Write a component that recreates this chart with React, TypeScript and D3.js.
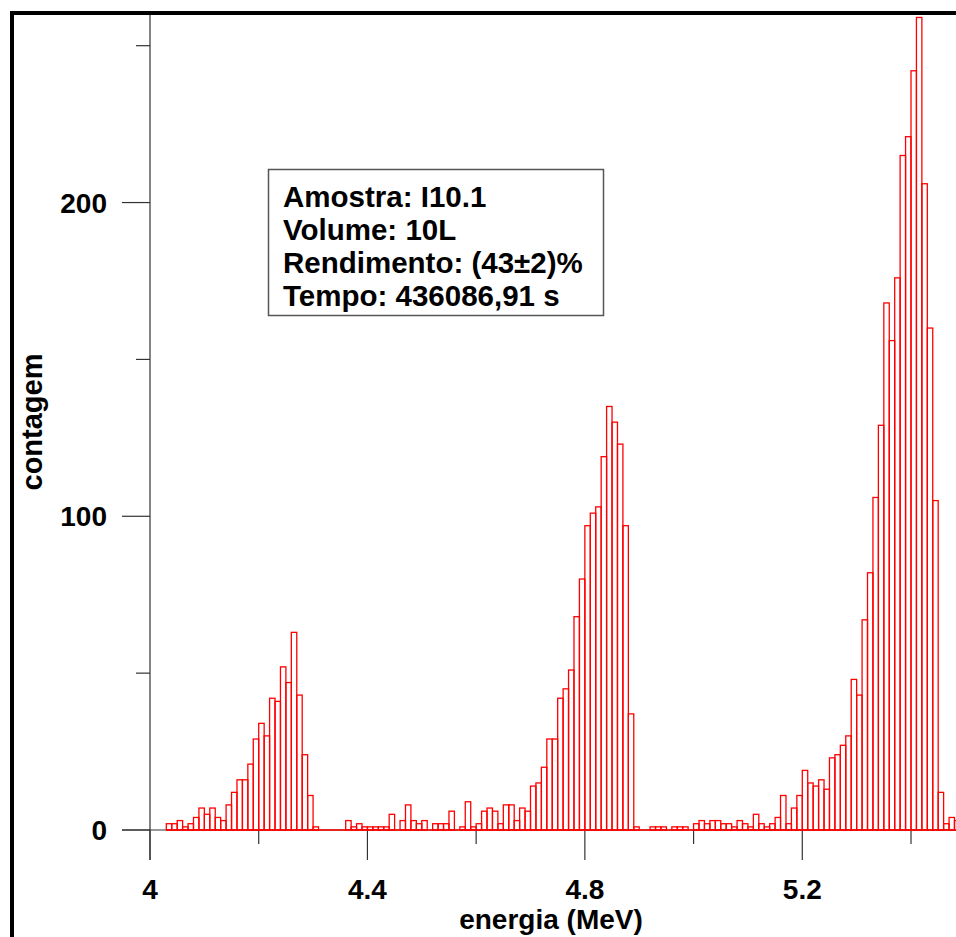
import React from 'react';
import * as d3 from 'd3';

// Histogram counts per 0.01 MeV bin, first bin starts at 4.03 MeV
const COUNTS: number[] = [
  2, 2, 3, 1, 2, 4, 7, 5, 7, 4,
  3, 8, 12, 16, 16, 21, 29, 34, 30, 42,
  41, 52, 47, 63, 43, 24, 11, 1, 0, 0,
  0, 0, 0, 3, 1, 2, 1, 1, 1, 1,
  1, 5, 0, 3, 8, 3, 2, 3, 0, 2,
  2, 2, 6, 0, 1, 9, 1, 2, 6, 7,
  6, 2, 8, 8, 3, 7, 6, 14, 15, 20,
  29, 29, 42, 45, 51, 68, 80, 97, 101, 103,
  119, 135, 130, 123, 97, 37, 1, 0, 0, 1,
  1, 1, 0, 1, 1, 1, 0, 2, 3, 2,
  3, 3, 2, 2, 1, 3, 2, 1, 5, 2,
  1, 2, 4, 11, 2, 7, 11, 19, 15, 14,
  16, 13, 23, 24, 27, 30, 48, 43, 67, 82,
  106, 129, 168, 156, 176, 215, 221, 242, 259, 206,
  160, 105, 12, 2, 4, 3,
];
const BIN_START = 4.03;
const BIN_WIDTH = 0.01;

const X_MAJOR = [4, 4.4, 4.8, 5.2];
const X_MINOR = [4.2, 4.6, 5.0, 5.4];
const Y_MAJOR = [0, 100, 200];
const Y_MINOR = [50, 150, 250];

const INFO_LINES = [
  'Amostra: I10.1',
  'Volume: 10L',
  'Rendimento: (43±2)%',
  'Tempo: 436086,91 s',
];

const X_TITLE = 'energia (MeV)';
const Y_TITLE = 'contagem';

const FONT = '"Liberation Sans", Arial, sans-serif';

export default function App() {
  const W = 956;
  const H = 937;
  const x = d3.scaleLinear().domain([4, 5.4]).range([150, 911]);
  const y = d3.scaleLinear().domain([0, 250]).range([830, 45.7]);
  const y0 = y(0);
  const axisColor = '#333';
  const red = '#ff0000';
  const firstX = x(BIN_START);

  const bars = COUNTS.map((c, i) => {
    const e0 = BIN_START + i * BIN_WIDTH;
    const x0 = x(e0);
    const x1 = x(e0 + BIN_WIDTH);
    return { x0, x1, top: y(c), c };
  });

  return (
    <svg
      width={W}
      height={H}
      style={{ position: 'absolute', left: 0, top: 0, background: '#fff' }}
    >
      <defs>
        <clipPath id="plotclip">
          <rect x={0} y={0} width={W} height={H} />
        </clipPath>
      </defs>
      <rect x={0} y={0} width={W} height={H} fill="#fff" />

      {/* y axis */}
      <line x1={150} x2={150} y1={15} y2={860} stroke={axisColor} strokeWidth={1.2} />
      {Y_MAJOR.map((v) => (
        <line key={'ym' + v} x1={122} x2={150} y1={y(v)} y2={y(v)} stroke={axisColor} strokeWidth={1.2} />
      ))}
      {Y_MINOR.map((v) => (
        <line key={'yn' + v} x1={136} x2={150} y1={y(v)} y2={y(v)} stroke={axisColor} strokeWidth={1.2} />
      ))}
      {Y_MAJOR.map((v) => (
        <text
          key={'yl' + v}
          x={107}
          y={y(v) + 10}
          textAnchor="end"
          fontFamily={FONT}
          fontWeight="bold"
          fontSize={28}
          fill="#000"
        >
          {v}
        </text>
      ))}

      {/* x axis */}
      <line x1={122} x2={W} y1={y0} y2={y0} stroke={axisColor} strokeWidth={1.2} />
      {X_MAJOR.map((v) => (
        <line key={'xm' + v} x1={x(v)} x2={x(v)} y1={y0} y2={860} stroke={axisColor} strokeWidth={1.2} />
      ))}
      {X_MINOR.map((v) => (
        <line key={'xn' + v} x1={x(v)} x2={x(v)} y1={y0} y2={844} stroke={axisColor} strokeWidth={1.2} />
      ))}
      {X_MAJOR.map((v) => (
        <text
          key={'xl' + v}
          x={x(v)}
          y={899}
          textAnchor="middle"
          fontFamily={FONT}
          fontWeight="bold"
          fontSize={28}
          fill="#000"
        >
          {d3.format('~g')(v)}
        </text>
      ))}

      {/* histogram */}
      <g clipPath="url(#plotclip)">
        <line x1={firstX} x2={W} y1={y0} y2={y0} stroke={red} strokeWidth={1.3} />
        {bars.map((b, i) =>
          b.c > 0 ? (
            <rect
              key={i}
              x={b.x0}
              y={b.top}
              width={b.x1 - b.x0}
              height={y0 - b.top}
              fill="none"
              stroke={red}
              strokeWidth={1.3}
            />
          ) : null
        )}
      </g>

      {/* titles */}
      <text
        x={551}
        y={929}
        textAnchor="middle"
        fontFamily={FONT}
        fontWeight="bold"
        fontSize={28}
        fill="#000"
      >
        {X_TITLE}
      </text>
      <text
        transform={`translate(42,422) rotate(-90)`}
        textAnchor="middle"
        fontFamily={FONT}
        fontWeight="bold"
        fontSize={29}
        fill="#000"
      >
        {Y_TITLE}
      </text>

      {/* info box */}
      <rect x={268.5} y={169.5} width={335} height={146} fill="#fff" stroke="#555" strokeWidth={1.5} />
      {INFO_LINES.map((t, i) => (
        <text
          key={'il' + i}
          x={283}
          y={207 + i * 33}
          fontFamily={FONT}
          fontWeight="bold"
          fontSize={29.5}
          fill="#000"
          style={{ whiteSpace: 'pre' }}
        >
          {t}
        </text>
      ))}

      {/* frame */}
      <rect x={12} y={13} width={W + 20} height={H + 20} fill="none" stroke="#000" strokeWidth={4} />
    </svg>
  );
}
